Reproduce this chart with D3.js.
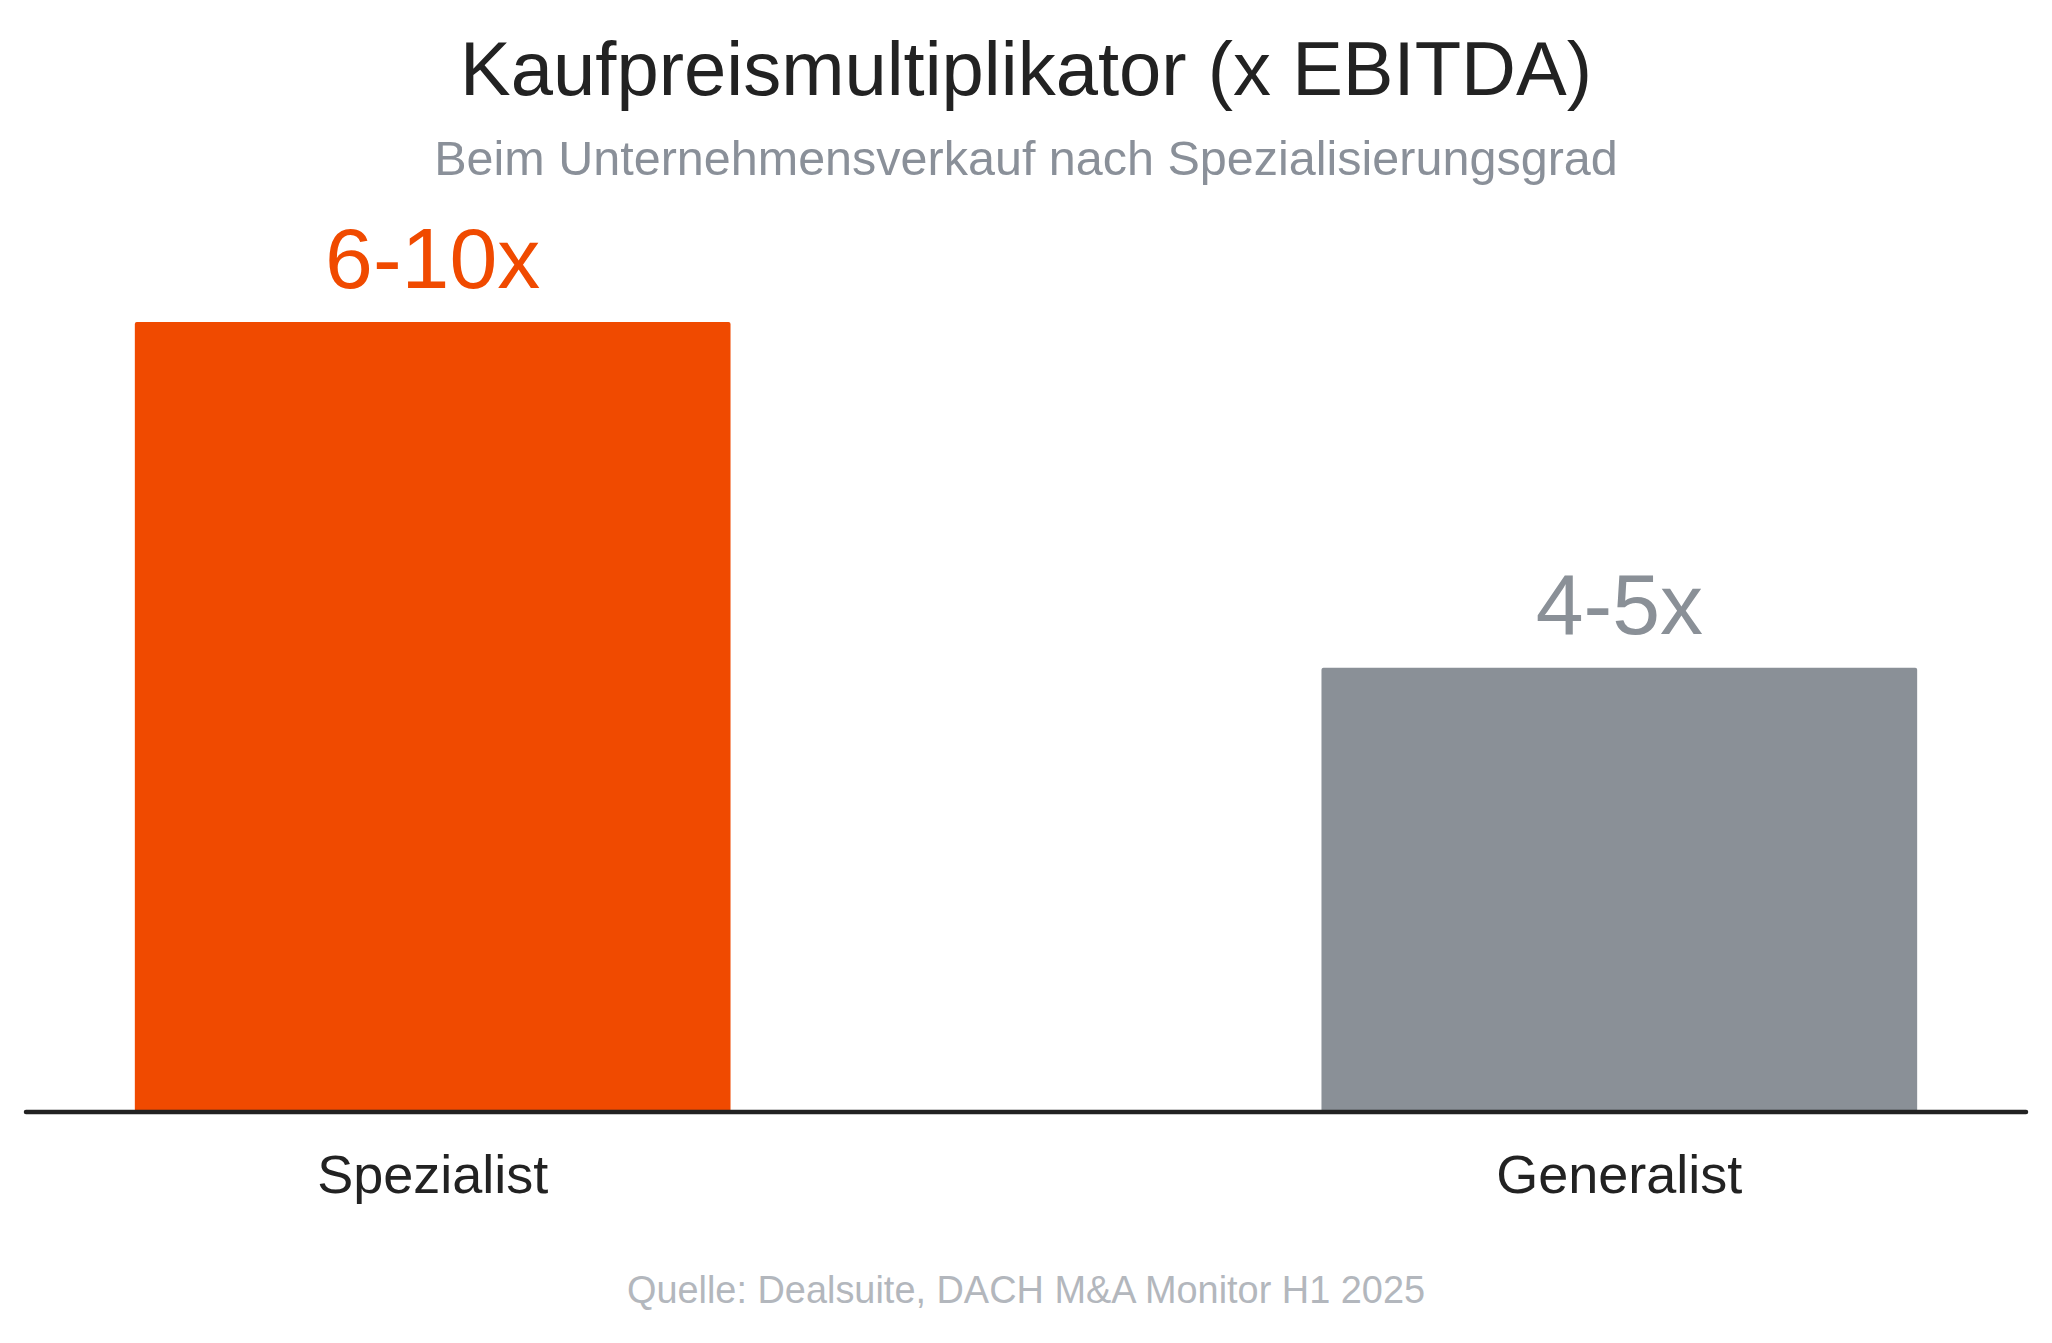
<!DOCTYPE html>
<html>
<head>
<meta charset="utf-8">
<script src="https://cdn.jsdelivr.net/npm/d3@7"></script>
<style>
  html, body { margin: 0; padding: 0; background: #ffffff; }
  svg { display: block; font-family: "Liberation Sans", Arial, sans-serif; }
</style>
</head>
<body>
<svg id="chart" width="2052" height="1343"></svg>
<script>
// ---- data ----
const categories = ["Spezialist", "Generalist"];
const values = [8, 4.5];               // midpoint of range, drives bar height
const valueLabels = ["6-10x", "4-5x"];
const barColors = ["#F04A00", "#8A9097"];
const title = "Kaufpreismultiplikator (x EBITDA)";
const subtitle = "Beim Unternehmensverkauf nach Spezialisierungsgrad";
const source = "Quelle: Dealsuite, DACH M&A Monitor H1 2025";

// ---- layout ----
const W = 2052, H = 1343;
const svg = d3.select("#chart");
const baseY = 1112;

const x = d3.scaleBand()
  .domain(categories)
  .range([24, 2028])
  .paddingInner(0.498)
  .paddingOuter(0.0934);

const y = d3.scaleLinear()
  .domain([0, 8])
  .range([baseY, 322]);

// title and subtitle
svg.append("text")
  .attr("x", W / 2).attr("y", 95)
  .attr("text-anchor", "middle")
  .attr("font-size", 76)
  .attr("fill", "#222222")
  .text(title);

svg.append("text")
  .attr("x", W / 2).attr("y", 175)
  .attr("text-anchor", "middle")
  .attr("font-size", 48.5)
  .attr("fill", "#8A9099")
  .text(subtitle);

// bars
const data = categories.map((c, i) => ({ c, v: values[i], label: valueLabels[i], color: barColors[i] }));

svg.append("g").selectAll("rect")
  .data(data)
  .join("rect")
  .attr("x", d => x(d.c))
  .attr("y", d => y(d.v))
  .attr("width", x.bandwidth())
  .attr("height", d => y(0) - y(d.v))
  .attr("rx", 2)
  .attr("fill", d => d.color);

// value labels
svg.append("g").selectAll("text")
  .data(data)
  .join("text")
  .attr("x", d => x(d.c) + x.bandwidth() / 2)
  .attr("y", d => y(d.v) - 34)
  .attr("text-anchor", "middle")
  .attr("font-size", 86)
  .attr("fill", d => d.color)
  .text(d => d.label);

// baseline axis
const axis = d3.axisBottom(x).tickSize(0).tickPadding(44);
const gx = svg.append("g")
  .attr("transform", `translate(0,${baseY})`)
  .call(axis);
gx.select(".domain")
  .attr("stroke", "#222222")
  .attr("stroke-width", 4.5)
  .attr("stroke-linecap", "round")
  .attr("d", `M${x.range()[0] + 2},0H${x.range()[1] - 2}`);
gx.selectAll(".tick text")
  .attr("font-size", 54)
  .attr("font-family", "'Liberation Sans', Arial, sans-serif")
  .attr("fill", "#222222")
  .attr("dy", null)
  .attr("y", 81);

// source
svg.append("text")
  .attr("x", W / 2).attr("y", 1303)
  .attr("text-anchor", "middle")
  .attr("font-size", 37.9)
  .attr("fill", "#B3B7BD")
  .text(source);
</script>
</body>
</html>
